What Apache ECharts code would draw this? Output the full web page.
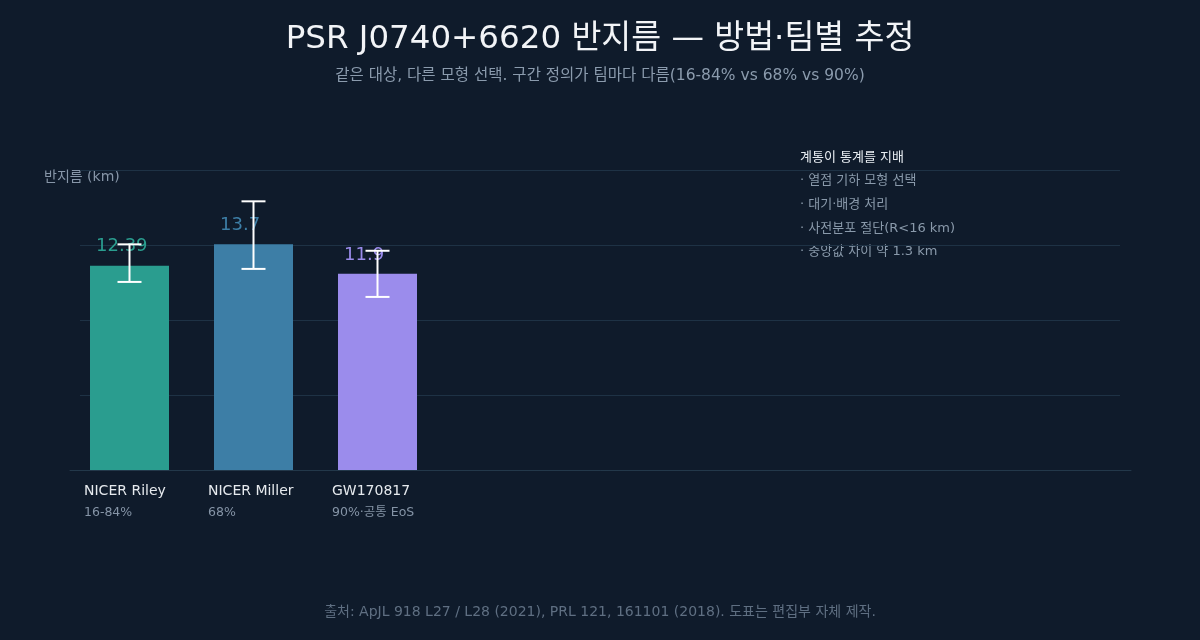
<!DOCTYPE html>
<html>
<head>
<meta charset="utf-8">
<script src="https://cdn.jsdelivr.net/npm/echarts@6/dist/echarts.min.js"></script>
<style>
  html, body { margin: 0; padding: 0; background: #0f1b2b; }
  #main { width: 1200px; height: 640px; }
</style>
</head>
<body>
<div id="main"></div>
<script>
var categories = ['NICER Riley', 'NICER Miller', 'GW170817'];
var intervalNotes = ['16-84%', '68%', '90%·공통 EoS'];
var medians = [12.39, 13.7, 11.9];
var errPlus = [1.30, 2.6, 1.4];
var errMinus = [0.98, 1.5, 1.4];
var barColors = ['#2a9d8f', '#3d7ea6', '#9b8cec'];
var notes = ['· 열점 기하 모형 선택', '· 대기·배경 처리', '· 사전분포 절단(R<16 km)', '· 중앙값 차이 약 1.3 km'];

var bgColor = '#0f1b2b';
var fontFamily = '"DejaVu Sans", "Noto Sans CJK KR", sans-serif';
var yMax = 18.2;

var chart = echarts.init(document.getElementById('main'));

var barData = medians.map(function (v, i) {
    return {
        value: v,
        itemStyle: { color: barColors[i] },
        label: { color: barColors[i] }
    };
});
var errData = medians.map(function (v, i) {
    return [i, v - errMinus[i], v + errPlus[i]];
});

var texts = [
    { x: 600, y: 40, text: 'PSR J0740+6620 반지름 — 방법·팀별 추정', font: '32.5px ' + fontFamily, fill: '#f2f4f7', align: 'center' },
    { x: 600, y: 76, text: '같은 대상, 다른 모형 선택. 구간 정의가 팀마다 다름(16-84% vs 68% vs 90%)', font: '15.5px ' + fontFamily, fill: '#8b9bad', align: 'center' },
    { x: 44, y: 177, text: '반지름 (km)', font: '14px ' + fontFamily, fill: '#8796a8', align: 'left' },
    { x: 800, y: 158, text: '계통이 통계를 지배', font: '13px ' + fontFamily, fill: '#e8edf2', align: 'left' },
    { x: 600, y: 612, text: '출처: ApJL 918 L27 / L28 (2021), PRL 121, 161101 (2018). 도표는 편집부 자체 제작.', font: '14px ' + fontFamily, fill: '#5f6f82', align: 'center' }
];
var noteY = [181, 205, 229, 252];
notes.forEach(function (t, i) {
    texts.push({ x: 800, y: noteY[i], text: t, font: '13px ' + fontFamily, fill: '#8a9aab', align: 'left' });
});

var option = {
    backgroundColor: bgColor,
    animation: false,
    textStyle: { fontFamily: fontFamily },
    graphic: texts.map(function (t) {
        return {
            type: 'text',
            x: t.x,
            y: t.y,
            silent: true,
            style: {
                text: t.text,
                font: t.font,
                fill: t.fill,
                align: t.align,
                verticalAlign: 'middle'
            }
        };
    }),
    grid: [
        // gridlines
        { left: 80, right: 80, top: 170, bottom: 170 },
        // bars
        { left: 67.5, width: 372, top: 170, bottom: 170 },
        // baseline
        { left: 70, right: 69, top: 170, bottom: 170 }
    ],
    xAxis: [
        { gridIndex: 0, type: 'category', data: categories, show: false },
        {
            gridIndex: 1,
            type: 'category',
            data: categories,
            axisLine: { show: false },
            axisTick: { show: false },
            axisLabel: {
                interval: 0,
                margin: 10,
                formatter: function (v, i) {
                    return '{a|' + v + '}\n{b|' + intervalNotes[i] + '}';
                },
                rich: {
                    a: { width: 91, align: 'left', fontSize: 14, color: '#e6eaee', fontFamily: fontFamily, lineHeight: 22 },
                    b: { width: 91, align: 'left', fontSize: 12.5, color: '#8594a6', fontFamily: fontFamily, lineHeight: 22 }
                }
            }
        },
        {
            gridIndex: 2,
            type: 'value',
            axisLine: { show: true, onZero: false, lineStyle: { color: '#23384a', width: 1 } },
            axisTick: { show: false },
            axisLabel: { show: false },
            splitLine: { show: false }
        }
    ],
    yAxis: [
        {
            gridIndex: 0, type: 'value', min: 0, max: yMax, interval: yMax / 4,
            axisLine: { show: false }, axisTick: { show: false }, axisLabel: { show: false },
            splitLine: { lineStyle: { color: '#1e3245', width: 1 } }
        },
        {
            gridIndex: 1, type: 'value', min: 0, max: yMax, interval: yMax / 4,
            axisLine: { show: false }, axisTick: { show: false }, axisLabel: { show: false },
            splitLine: { show: false }
        },
        {
            gridIndex: 2, type: 'value', min: 0, max: yMax, show: false
        }
    ],
    series: [
        {
            type: 'bar',
            xAxisIndex: 1,
            yAxisIndex: 1,
            barWidth: 79,
            data: barData,
            label: {
                show: true,
                position: [6, -19],
                align: 'left',
                verticalAlign: 'middle',
                fontSize: 18,
                fontFamily: fontFamily
            },
            z: 2
        },
        {
            type: 'custom',
            xAxisIndex: 1,
            yAxisIndex: 1,
            data: errData,
            z: 5,
            renderItem: function (params, api) {
                var lo = api.coord([api.value(0), api.value(1)]);
                var hi = api.coord([api.value(0), api.value(2)]);
                var half = 12;
                var st = { stroke: '#ffffff', lineWidth: 2 };
                return {
                    type: 'group',
                    children: [
                        { type: 'line', shape: { x1: hi[0], y1: hi[1], x2: lo[0], y2: lo[1] }, style: st },
                        { type: 'line', shape: { x1: hi[0] - half, y1: hi[1], x2: hi[0] + half, y2: hi[1] }, style: st },
                        { type: 'line', shape: { x1: lo[0] - half, y1: lo[1], x2: lo[0] + half, y2: lo[1] }, style: st }
                    ]
                };
            }
        }
    ]
};

chart.setOption(option);
</script>
</body>
</html>
